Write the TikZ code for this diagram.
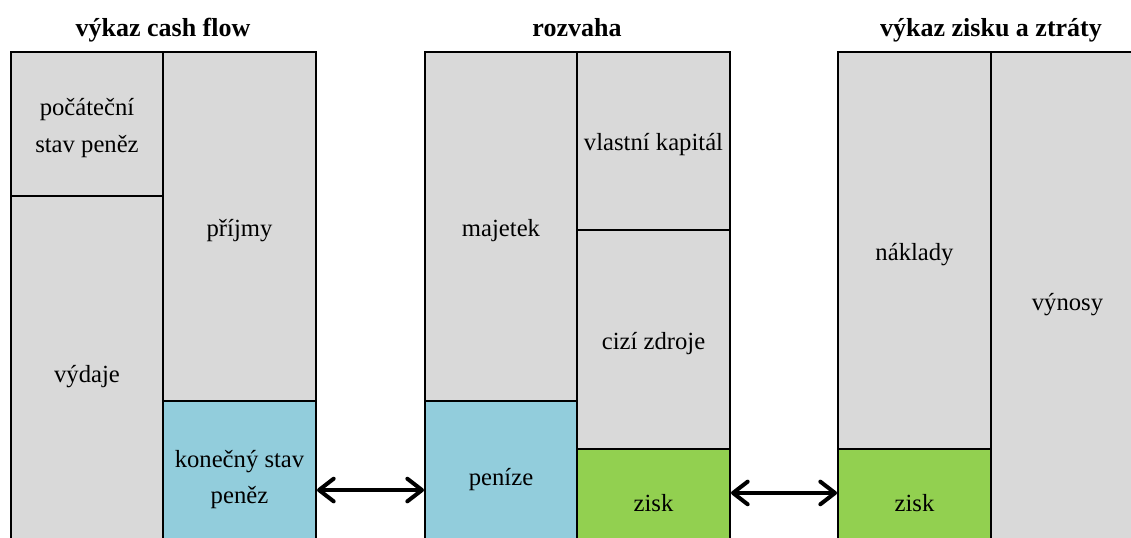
\documentclass[tikz,border=0pt]{standalone}
\usepackage{fontspec}
\setmainfont{Liberation Serif}
\usetikzlibrary{positioning,fit,arrows.meta}
\definecolor{cellgray}{HTML}{D9D9D9}
\definecolor{moneyblue}{HTML}{92CDDC}
\definecolor{profitgreen}{HTML}{92D050}
\tikzset{
	statement/.style={
		x=0.75pt,
		y=-0.75pt
	},
	cell/.style={
		rectangle,
		draw=black,
		line width=1.5pt,
		fill=cellgray,
		inner sep=0pt
	},
	money/.style={
		cell,
		fill=moneyblue
	},
	profit/.style={
		cell,
		fill=profitgreen
	},
	caption/.style={
		yshift=-3pt,
		align=center,
		inner sep=0pt,
		font=\fontsize{18.5}{27.5}\selectfont
	},
	heading/.style={
		anchor=base,
		inner sep=0pt,
		font=\fontsize{19.5}{23}\selectfont\bfseries
	},
	link/.style={
		line width=3pt,
		{Straight Barb[length=11pt,width=17pt,round]}-{Straight Barb[length=11pt,width=17pt,round]}
	}
}

\begin{document}
\begin{tikzpicture}[statement]
	\useasboundingbox (0,0) rectangle (1131,538);
	\clip (0,0) rectangle (1131,538);
	% cash flow
	\node[heading] (cfhead) at (163,37) {výkaz cash flow};
	\node[cell,fit={(11,52) (163,196)},label={[caption]center:počáteční\\stav peněz}] (start) {};
	\node[cell,fit={(11,196) (163,550)},label={[caption]center:výdaje}] (out) {};
	\node[cell,fit={(163,52) (316,401)},label={[caption]center:příjmy}] (in) {};
	\node[money,fit={(163,401) (316,550)},label={[caption]center:konečný stav\\peněz}] (end) {};
	% balance sheet
	\node[heading] (bshead) at (577,37) {rozvaha};
	\node[cell,fit={(425,52) (577,401)},label={[caption]center:majetek}] (assets) {};
	\node[money,fit={(425,401) (577,550)},label={[caption]center:peníze}] (cash) {};
	\node[cell,fit={(577,52) (730,230)},label={[caption]center:vlastní kapitál}] (equity) {};
	\node[cell,fit={(577,230) (730,449)},label={[caption]center:cizí zdroje}] (debt) {};
	\node[profit,fit={(577,449) (730,550)},label={[caption]center:zisk}] (bsprofit) {};
	% income statement
	\node[heading] (ishead) at (991,37) {výkaz zisku a ztráty};
	\node[cell,fit={(838,52) (991,449)},label={[caption]center:náklady}] (costs) {};
	\node[profit,fit={(838,449) (991,550)},label={[caption]center:zisk}] (isprofit) {};
	\node[cell,fit={(991,52) (1144,550)},label={[caption]center:výnosy}] (revenue) {};
	% links
	\coordinate (endlink) at ([yshift=-10.9pt]end.east);
	\coordinate (cashlink) at ([yshift=-10.9pt]cash.west);
	\draw[link] (endlink) -- (cashlink);
	\coordinate (bslink) at ([yshift=4.9pt]bsprofit.east);
	\coordinate (islink) at ([yshift=4.9pt]isprofit.west);
	\draw[link] (bslink) -- (islink);
\end{tikzpicture}
\end{document}
